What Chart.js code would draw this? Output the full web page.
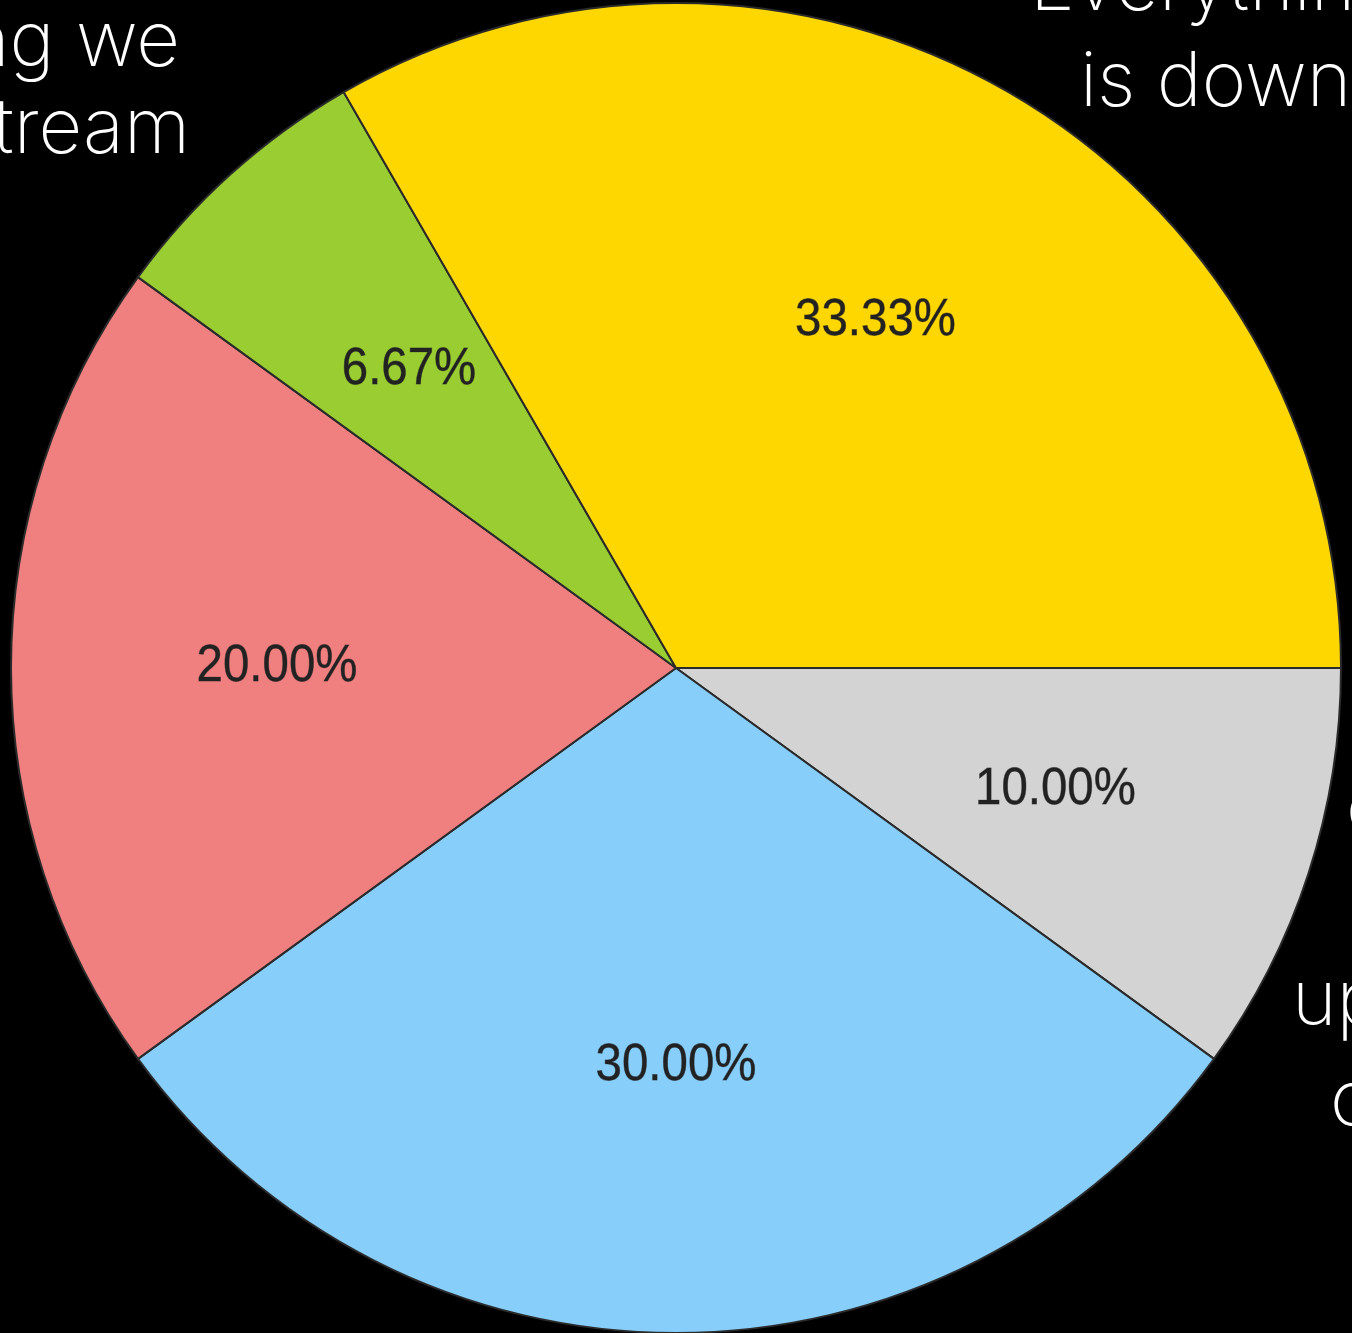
<!DOCTYPE html>
<html>
<head>
<meta charset="utf-8">
<script src="https://cdn.jsdelivr.net/npm/chart.js@4/dist/chart.umd.min.js"></script>
<style>
  html, body { margin: 0; padding: 0; background: #000; overflow: hidden; }
  #wrap { position: relative; width: 1352px; height: 1340px; }
</style>
</head>
<body>
<div id="wrap"><canvas id="pie"></canvas></div>
<script>
// slices, clockwise from 3 o'clock
var labels = ['Gray', 'Blue', 'Red', 'Green', 'Yellow'];
var shares = [10.00, 30.00, 20.00, 6.67, 33.33];
var colors = ['#d3d3d3', '#87cefa', '#f08080', '#9acd32', '#ffd700'];

// white words around the pie (partly off the page)
var sideText = [
  { text: 'ng we', x: 180, y: 66, align: 'right' },
  { text: 'tream', x: 190, y: 153, align: 'right' },
  { text: 'Everything', x: 1030, y: 10, align: 'left' },
  { text: 'is down', x: 1080, y: 106, align: 'left' },
  { text: 'o', x: 1346, y: 833, align: 'left' },
  { text: 'up', x: 1292, y: 1025, align: 'left' },
  { text: 'o', x: 1330, y: 1125, align: 'left' }
];

// percent labels at 0.6 of the radius, like autopct
var pctLabels = {
  id: 'pctLabels',
  afterDatasetsDraw: function (chart) {
    var ctx = chart.ctx;
    var meta = chart.getDatasetMeta(0);
    ctx.save();
    ctx.fillStyle = '#222222';
    ctx.strokeStyle = 'rgba(34,34,34,0.5)';
    ctx.lineWidth = 0.8;
    ctx.font = '51px "Liberation Sans", Arial, sans-serif';
    ctx.textAlign = 'center';
    ctx.textBaseline = 'alphabetic';
    meta.data.forEach(function (arc, i) {
      var p = arc.getProps(['x', 'y', 'startAngle', 'endAngle', 'outerRadius'], true);
      var mid = (p.startAngle + p.endAngle) / 2;
      var r = p.outerRadius * 0.6;
      var cx = p.x + Math.cos(mid) * r;
      var cy = p.y + Math.sin(mid) * r;
      var txt = shares[i].toFixed(2) + '%';
      ctx.save();
      ctx.translate(cx, cy + 13);
      ctx.scale(0.93, 1);
      ctx.fillText(txt, 0, 0);
      ctx.strokeText(txt, 0, 0);
      ctx.restore();
    });
    ctx.restore();
  }
};

var words = {
  id: 'words',
  afterDraw: function (chart) {
    var ctx = chart.ctx;
    ctx.save();
    ctx.fillStyle = '#ffffff';
    ctx.font = '200 76px Inter, Roboto, sans-serif';
    ctx.textBaseline = 'alphabetic';
    sideText.forEach(function (t) {
      ctx.textAlign = t.align;
      ctx.fillText(t.text, t.x, t.y);
    });
    ctx.restore();
  }
};

var ctx = document.getElementById('pie').getContext('2d');
var myPie = new Chart(ctx, {
  type: 'pie',
  data: {
    labels: labels,
    datasets: [{
      data: shares,
      backgroundColor: colors,
      borderColor: '#2a2a2a',
      borderWidth: 2
    }]
  },
  options: {
    responsive: true,
    maintainAspectRatio: false,
    animation: false,
    rotation: 90,
    layout: { padding: { top: 2, bottom: 6, left: 10, right: 10 } },
    plugins: {
      legend: { display: false },
      tooltip: { enabled: false }
    }
  },
  plugins: [pctLabels, words]
});
</script>
</body>
</html>
